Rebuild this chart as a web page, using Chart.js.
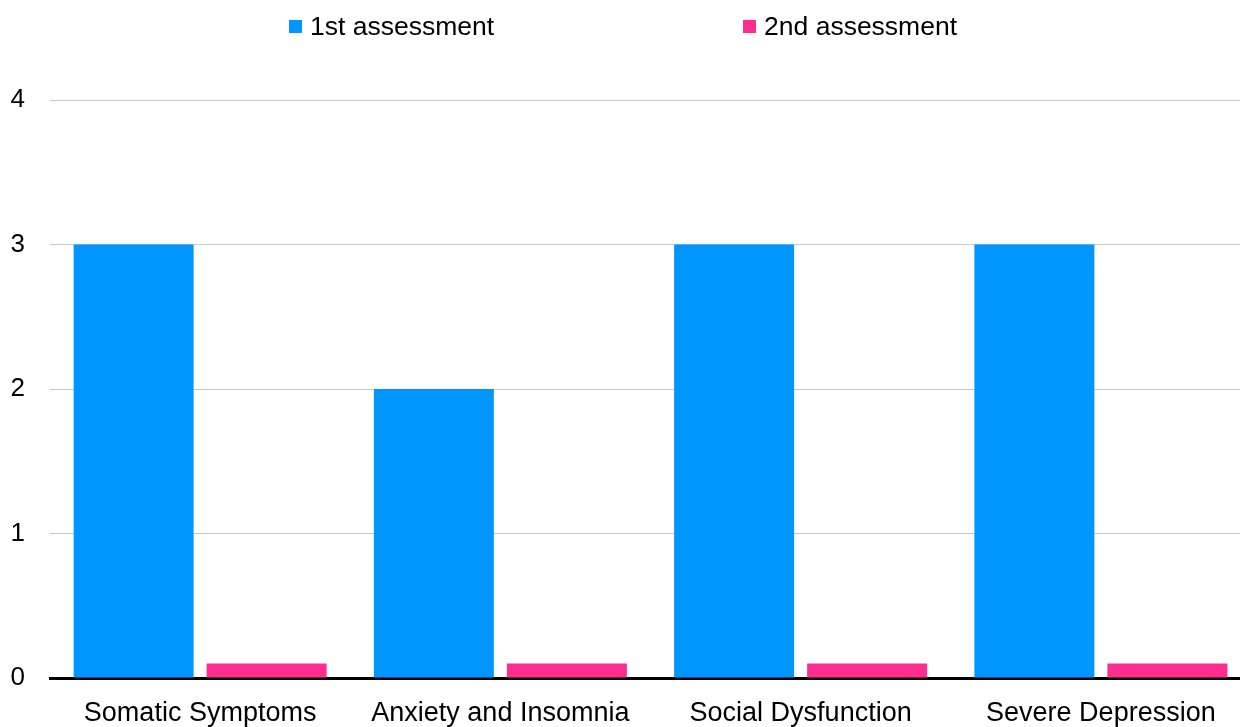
<!DOCTYPE html>
<html>
<head>
<meta charset="utf-8">
<title>Assessment</title>
<script src="https://cdn.jsdelivr.net/npm/chart.js@4/dist/chart.umd.min.js"></script>
<style>
  html, body { margin: 0; padding: 0; background: #fff; }
  #wrap { position: relative; width: 1240px; height: 727px; overflow: hidden; }
  #leyenda {
    position: absolute; top: 11px; left: 3px; width: 1240px;
    display: flex; justify-content: center; gap: 249px;
    font-family: "Liberation Sans", Arial, sans-serif; font-size: 26.5px; color: #000;
  }
  #leyenda .item { display: flex; align-items: center; white-space: nowrap; }
  #leyenda .caja { width: 13px; height: 13px; margin-right: 8px; }
  /* el lienzo es algo mas ancho: el area de barras sigue mas alla del borde derecho */
  #grafico { position: absolute; top: 0; left: 0; }
</style>
</head>
<body>
<div id="wrap">
  <canvas id="grafico" width="1251" height="727"></canvas>
  <div id="leyenda"></div>
</div>
<script>
// Datos
const categorias = ['Somatic Symptoms', 'Anxiety and Insomnia', 'Social Dysfunction', 'Severe Depression'];
const primeraEvaluacion = [3, 2, 3, 3];
const segundaEvaluacion = [0.1, 0.1, 0.1, 0.1];
const nombresSeries = ['1st assessment', '2nd assessment'];
const coloresSeries = ['#0096ff', '#ff2d8f'];
const ticksY = [0, 1, 2, 3, 4];

const familia = '"Liberation Sans", Arial, sans-serif';

const ctx = document.getElementById('grafico').getContext('2d');
const grafico = new Chart(ctx, {
  type: 'bar',
  data: {
    labels: categorias,
    datasets: [
      { label: nombresSeries[0], data: primeraEvaluacion, backgroundColor: coloresSeries[0] },
      { label: nombresSeries[1], data: segundaEvaluacion, backgroundColor: coloresSeries[1] }
    ]
  },
  options: {
    responsive: false,
    animation: false,
    layout: { padding: { top: 100, right: 0, left: 0, bottom: 0 } },
    datasets: { bar: { categoryPercentage: 0.886, barPercentage: 0.902, borderWidth: 0 } },
    plugins: { legend: { display: false }, tooltip: { enabled: false } },
    scales: {
      x: {
        grid: { display: false, drawTicks: false },
        border: { display: true, color: '#000', width: 3 },
        ticks: { color: '#000', font: { family: familia, size: 27 }, padding: 19, maxRotation: 0 },
        afterFit: s => { s.height = 49; }
      },
      y: {
        min: ticksY[0],
        max: ticksY[ticksY.length - 1],
        afterBuildTicks: s => { s.ticks = ticksY.map(v => ({ value: v })); },
        grid: {
          drawTicks: false,
          color: c => c.tick.value === 0 ? 'rgba(0,0,0,0)' : '#c8c8c8',
          lineWidth: 1
        },
        border: { display: false },
        ticks: { color: '#000', font: { family: familia, size: 26 }, padding: 25 },
        afterFit: s => { s.width = 50; }
      }
    }
  }
});

// Leyenda en HTML a partir de los datasets
const leyenda = document.getElementById('leyenda');
grafico.data.datasets.forEach(ds => {
  const item = document.createElement('div');
  item.className = 'item';
  item.innerHTML = `<span class="caja" style="background:${ds.backgroundColor}"></span><span>${ds.label}</span>`;
  leyenda.appendChild(item);
});
</script>
</body>
</html>
